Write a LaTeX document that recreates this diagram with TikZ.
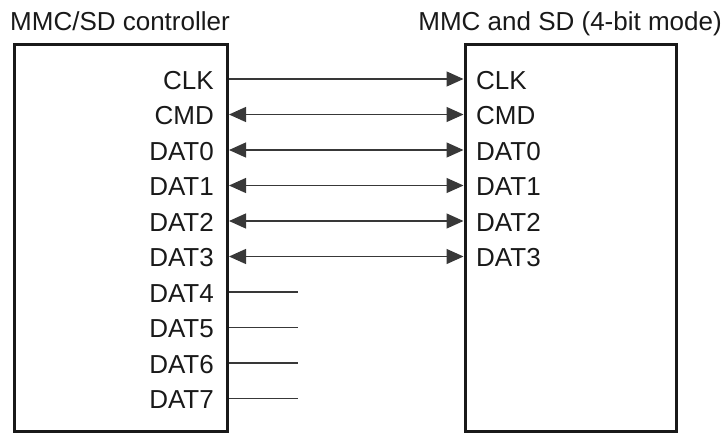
\documentclass[tikz,border=0pt]{standalone}
\usepackage{fontspec}
\setmainfont{Liberation Sans}
\usetikzlibrary{arrows.meta}
\begin{document}
\begin{tikzpicture}[x=1pt,y=-1pt,
  font=\fontsize{26}{30}\selectfont,
  every node/.style={text=black!90},
  chip/.style={draw=black!90,line width=3pt,fill=none,inner sep=0pt},
  sig/.style={line width=1.3pt,draw=black!78},
  head/.tip={Triangle[length=17pt,width=15pt]},
  tip/.style={-head},
  bitip/.style={head-head},
  lpin/.style={anchor=base east,inner sep=0pt},
  rpin/.style={anchor=base west,inner sep=0pt},
]
\useasboundingbox (0,0) rectangle (728,434);

% blocks and titles
\node[chip,minimum width=213pt,minimum height=387pt] (ctl) at (121,238) {};
\node[chip,minimum width=211pt,minimum height=387pt] (card) at (570.5,238) {};
\node[anchor=base west,inner sep=0pt] (ctltitle) at (10,30) {MMC/SD controller};
\node[anchor=base east,inner sep=0pt] (cardtitle) at (722,30) {MMC and SD (4-bit mode)};

% controller pins
\foreach \n/\t [count=\i from 0] in {lclk/CLK,lcmd/CMD,ld0/DAT0,ld1/DAT1,ld2/DAT2,ld3/DAT3,ld4/DAT4,ld5/DAT5,ld6/DAT6,ld7/DAT7}
  \node[lpin] (\n) at (214,{79+35.5*\i+10}) {\t};

% card pins
\foreach \n/\t [count=\i from 0] in {rclk/CLK,rcmd/CMD,rd0/DAT0,rd1/DAT1,rd2/DAT2,rd3/DAT3}
  \node[rpin] (\n) at (476,{79+35.5*\i+10}) {\t};

% signal lines
\draw[sig,tip] (ctl.east |- 0,79) -- (card.west |- 0,79);
\foreach \k [count=\i from 1] in {cmd,d0,d1,d2,d3}
  \draw[sig,bitip] (ctl.east |- 0,{79+35.5*\i}) -- (card.west |- 0,{79+35.5*\i});

% unused data lines
\foreach \i in {6,...,9}
  \draw[sig] (ctl.east |- 0,{79+35.5*\i}) -- (298,{79+35.5*\i});
\end{tikzpicture}
\end{document}
